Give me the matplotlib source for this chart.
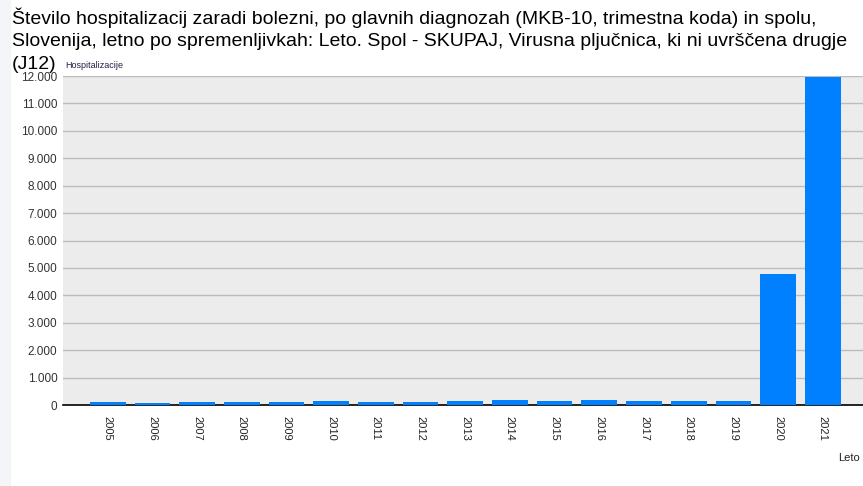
import numpy as np
import matplotlib.pyplot as plt
from matplotlib.patches import Rectangle
from matplotlib.ticker import FuncFormatter

plt.rcParams['font.family'] = ['Liberation Sans', 'DejaVu Sans']

# Data
years = [str(y) for y in range(2005, 2022)]
hospitalizations = [110, 75, 110, 110, 110, 150, 110, 110, 130, 170,
                    130, 170, 130, 130, 130, 4780, 11950]

title_lines = ["Število hospitalizacij zaradi bolezni, po glavnih diagnozah (MKB-10, trimestna koda) in spolu,",
               "Slovenija, letno po spremenljivkah: Leto. Spol - SKUPAJ, Virusna pljučnica, ki ni uvrščena drugje",
               "(J12)"]

fig = plt.figure(figsize=(8.63, 4.86), dpi=100)
fig.patches.append(Rectangle((0, 0), 10 / 863, 1, transform=fig.transFigure,
                             color='#f3f5f8', zorder=0))

ax = fig.add_axes([63 / 863, 1 - 405 / 486, 1 - 63 / 863, (405 - 76) / 486])
ax.set_facecolor('#ececec')

x = np.arange(len(years))
ax.bar(x, hospitalizations, width=0.8, color='#0080ff', zorder=3)

ax.set_xlim(-1, 16.9)
ax.set_ylim(0, 12000)
ax.set_yticks(np.arange(0, 12001, 1000))
ax.yaxis.set_major_formatter(FuncFormatter(lambda v, p: f"{int(v):,}".replace(',', '.')))
ax.grid(axis='y', color='#bdbdbd', linewidth=1, zorder=0)
ax.set_xticks(x)
ax.set_xticklabels(years, rotation=270, fontsize=8, color='#222222')
ax.tick_params(axis='y', length=0, labelsize=8.5, labelcolor='#333333', pad=4)
ax.tick_params(axis='x', length=0, pad=8)

for side in ['top', 'right', 'left']:
    ax.spines[side].set_visible(False)
ax.spines['bottom'].set_color('black')
ax.spines['bottom'].set_linewidth(1.2)

# title, one line at a time
for i, line in enumerate(title_lines):
    fig.text(12 / 863, 1 - (18 + 23 * i) / 486, line, fontsize=14, va='center',
             ha='left', color='black')
fig.text(65 / 863, 1 - 66 / 486, 'Hospitalizacije', fontsize=6.5, va='center',
         ha='left', color='#222244')
fig.text(838 / 863, 1 - 458 / 486, 'Leto', fontsize=8, va='center', ha='left',
         color='#222222')

fig.savefig('out.png', dpi=100)
